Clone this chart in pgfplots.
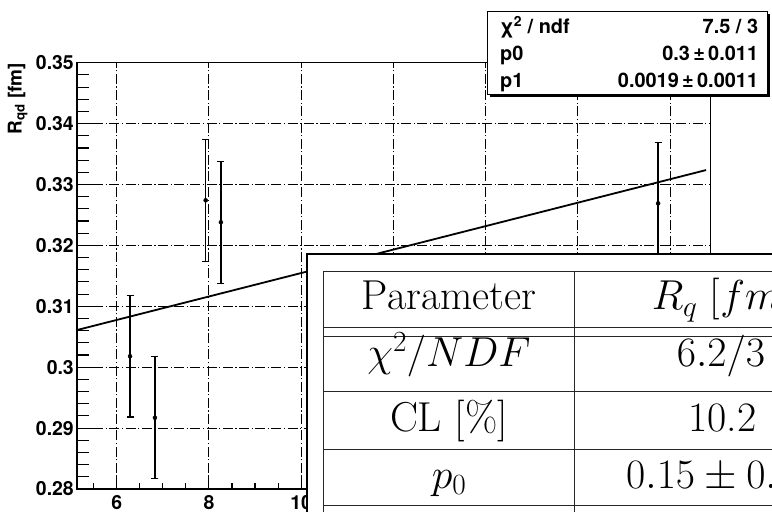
\RequirePackage{fix-cm}
\documentclass[border=0pt]{standalone}
\usepackage{pgfplots}
\pgfplotsset{compat=1.18}
\usepackage{fontspec}
\newfontfamily\hel{TeX Gyre Heros}

% R_qd versus x, five points with a straight-line fit
\pgfplotstableread{
x     y      e
6.29  0.3018 0.0100
6.83  0.2917 0.0100
7.93  0.3274 0.0100
8.26  0.3238 0.0100
17.74 0.3269 0.0100
}\rqd

\begin{document}
\begin{tikzpicture}
\useasboundingbox (0,0) rectangle (772bp,512bp);
\clip (0,0) rectangle (772bp,512bp);
\begin{axis}[
  at={(77bp,23bp)}, anchor=south west,
  scale only axis, width=633.7bp, height=426.3bp,
  xmin=5.14, xmax=18.88, ymin=0.28, ymax=0.35,
  xtick={6,8,10,12,14,16,18},
  % labels from 12 on sit under the parameter table
  xticklabels={6,8,10,{},{},{},{}},
  ytick={0.28,0.29,0.30,0.31,0.32,0.33,0.34,0.35},
  yticklabels={0.28,0.29,0.3,0.31,0.32,0.33,0.34,0.35},
  minor xtick={5.5,6,...,18.5},
  minor y tick num=4,
  tick pos=left, tick align=inside,
  major tick length=23bp, minor tick length=12bp,
  xtick style={/pgfplots/major tick length=14bp, /pgfplots/minor tick length=6bp},
  tick style={line width=1.1bp, black},
  axis line style={line width=1.3bp, black},
  grid=major,
  major grid style={black, line width=0.9bp, dash pattern=on 10bp off 2.5bp on 1.2bp off 2.5bp},
  /pgf/number format/assume math mode=true,
  ticklabel style={font=\fontsize{19.5}{22}\selectfont\hel\bfseries},
  yticklabel style={anchor=east, inner sep=0pt, xshift=-3bp},
  xticklabel style={anchor=north, inner sep=0pt, yshift=-6bp},
  clip=true,
]
\addplot[black, line width=1.8bp] coordinates {(5.14,0.30610) (18.78,0.33237)};
\addplot[black, only marks, mark=*, mark size=2bp,
  error bars/.cd, y dir=both, y explicit, error mark=|,
  error bar style={line width=1.3bp, black},
  error mark options={line width=1.3bp, mark size=3.5bp, black}]
  table[x=x, y=y, y error=e] {\rqd};
\end{axis}

% axis title
\node[rotate=90, anchor=base east, inner sep=0pt,
      font=\fontsize{19}{22}\selectfont\hel\bfseries] at (21.5bp,449bp)
  {R\textsubscript{qd} [fm]};

% fit statistics box
\fill[black] (489.8bp,414.5bp) rectangle (769.5bp,497.8bp);
\filldraw[fill=white, draw=black, line width=1bp] (487.3bp,417bp) rectangle (767bp,500.3bp);
\begin{scope}[every node/.style={inner sep=0pt, font=\fontsize{20}{24}\selectfont\hel\bfseries}]
  \node[anchor=base west] at (500bp,478.5bp) {χ\textsuperscript{2} / ndf};
  \node[anchor=base east] at (758.3bp,478.5bp) {7.5 / 3};
  \node[anchor=base west] at (500bp,451bp) {p0};
  \node[anchor=base east] at (758.3bp,451bp) {0.3\,±\,0.011};
  \node[anchor=base west] at (500bp,424bp) {p1};
  \node[anchor=base east] at (758.3bp,424bp) {0.0019\,±\,0.0011};
\end{scope}

% parameter table
\filldraw[fill=white, draw=black, line width=2bp] (307.3bp,258bp) rectangle (820bp,-20bp);
\begin{scope}[black!85, line width=0.9bp]
  \draw (323.3bp,240.3bp) -- (323.3bp,-20bp);
  \draw (574bp,240.3bp) -- (574bp,-20bp);
  \foreach \yy in {240.3,184.7,176,120.3,62.7,7}
    \draw (323.3bp,\yy bp) -- (820bp,\yy bp);
\end{scope}
\begin{scope}[every node/.style={inner sep=0pt, font=\fontsize{42}{50}\selectfont}]
  \node[anchor=base] at (449bp,202bp) {Parameter};
  \node[anchor=base] at (449bp,145.3bp) {$\chi^2/NDF$};
  \node[anchor=base] at (449bp,80.3bp) {CL [\%]};
  \node[anchor=base] at (449bp,23.7bp) {$p_0$};
  \node[anchor=base west] at (651.7bp,202bp) {$R_q$ [$fm$]};
  \node[anchor=base west] at (676.7bp,145.3bp) {$6.2/3$};
  \node[anchor=base west] at (688bp,80.3bp) {10.2};
  \node[anchor=base west] at (626bp,23.7bp) {$0.15\pm0.03$};
\end{scope}
\end{tikzpicture}
\end{document}
